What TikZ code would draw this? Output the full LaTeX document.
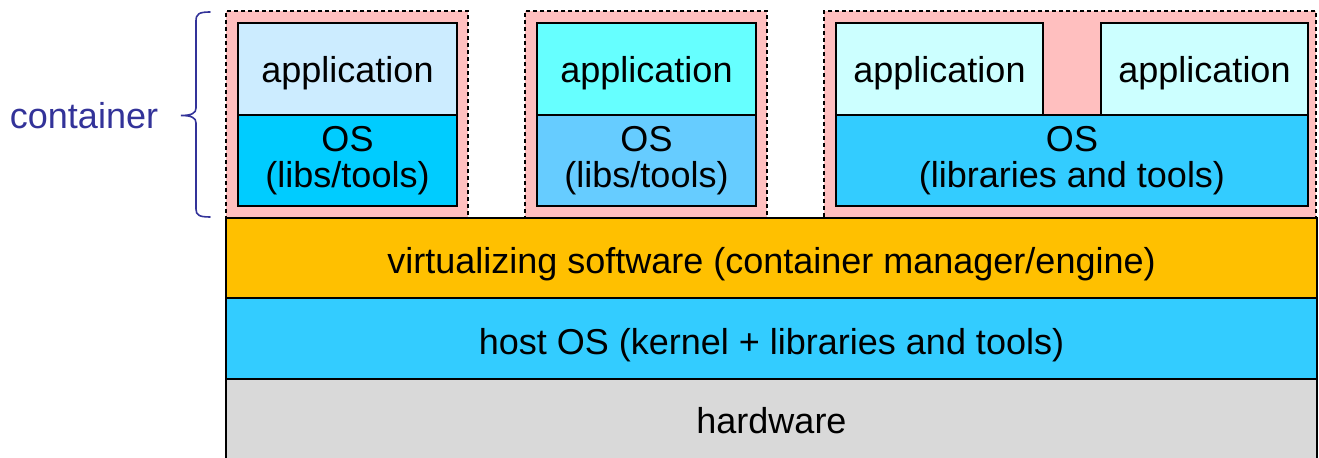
\documentclass[tikz,border=0pt]{standalone}
\usepackage{fontspec}
\setmainfont{Liberation Sans}
\definecolor{pinkc}{HTML}{FFBFBF}
\definecolor{appA}{HTML}{CCECFF}
\definecolor{osA}{HTML}{00CCFF}
\definecolor{appB}{HTML}{66FFFF}
\definecolor{osB}{HTML}{66CCFF}
\definecolor{appC}{HTML}{CCFFFF}
\definecolor{osC}{HTML}{33CCFF}
\definecolor{virtc}{HTML}{FFC000}
\definecolor{hostc}{HTML}{33CCFF}
\definecolor{hwc}{HTML}{D9D9D9}
\definecolor{bracec}{HTML}{333399}
\newcommand{\lowered}[2]{\raisebox{-#1}[\height][\depth]{#2}}
\newcommand{\twoline}[2]{\raisebox{-0.6pt}[\height][\depth]{\fontsize{18}{17}\selectfont\begin{tabular}{@{}c@{}}#1\\#2\end{tabular}}}
\begin{document}
\begin{tikzpicture}[x=0.5pt,y=-0.5pt,
  box/.style={draw=black, line width=1pt, inner sep=0pt, align=center,
    font=\fontsize{18}{18.5}\selectfont},
  cont/.style={draw=black, dash pattern=on 2pt off 1.5pt, line width=0.75pt, fill=pinkc, inner sep=0pt},
  layer/.style={draw=black, line width=1pt, inner sep=0pt, align=center,
    minimum width=1091*0.5pt, font=\fontsize{18}{18.5}\selectfont},
  bracepath/.style={draw=bracec, line width=0.8pt, line cap=round}]
\useasboundingbox (0,0) rectangle (1319,458);
% containers
\node[cont, minimum width=242*0.5pt, minimum height=207*0.5pt] (c1) at (347,114.5) {};
\node[cont, minimum width=242*0.5pt, minimum height=207*0.5pt] (c2) at (646,114.5) {};
\node[cont, minimum width=492*0.5pt, minimum height=207*0.5pt] (c3) at (1070,114.5) {};
% container 1
\node[box, fill=appA, minimum width=219*0.5pt, minimum height=92*0.5pt] (a1) at (347.5,69) {\lowered{2pt}{application}};
\node[box, fill=osA, minimum width=219*0.5pt, minimum height=91*0.5pt] (o1) at (347.5,160.5) {\twoline{OS}{(libs/tools)}};
% container 2
\node[box, fill=appB, minimum width=219*0.5pt, minimum height=92*0.5pt] (a2) at (646.5,69) {\lowered{2pt}{application}};
\node[box, fill=osB, minimum width=219*0.5pt, minimum height=91*0.5pt] (o2) at (646.5,160.5) {\twoline{OS}{(libs/tools)}};
% container 3
\node[box, fill=appC, minimum width=207*0.5pt, minimum height=92*0.5pt] (a3) at (939.5,69) {\lowered{2pt}{application}};
\node[box, fill=appC, minimum width=207*0.5pt, minimum height=92*0.5pt] (a4) at (1204.5,69) {\lowered{2pt}{application}};
\node[box, fill=osC, minimum width=472*0.5pt, minimum height=91*0.5pt] (o3) at (1072,160.5) {\twoline{OS}{(libraries and tools)}};
% layers
\node[layer, fill=virtc, minimum height=80*0.5pt] (virt) at (771.5,258) {\lowered{3pt}{virtualizing software (container manager/engine)}};
\node[layer, fill=hostc, minimum height=81*0.5pt] (host) at (771.5,338.5) {\lowered{3.2pt}{host OS (kernel + libraries and tools)}};
\node[layer, fill=hwc, minimum height=82*0.5pt] (hw) at (771.5,420) {\lowered{0.3pt}{hardware}};
% brace
\coordinate (bt) at (210,12);
\coordinate (bb) at (210,217);
\coordinate (btip) at (181,115.5);
\draw[bracepath] (bt) .. controls (199,12) and (196,14) .. (196,21) -- (196,108)
  .. controls (196,113) and (192,115.5) .. (btip)
  .. controls (192,115.5) and (196,118) .. (196,123) -- (196,209)
  .. controls (196,215) and (199,217) .. (bb);
\node[text=bracec, inner sep=0pt, font=\fontsize{18}{18.5}\selectfont] (lbl) at (84,116) {container};
\end{tikzpicture}
\end{document}
